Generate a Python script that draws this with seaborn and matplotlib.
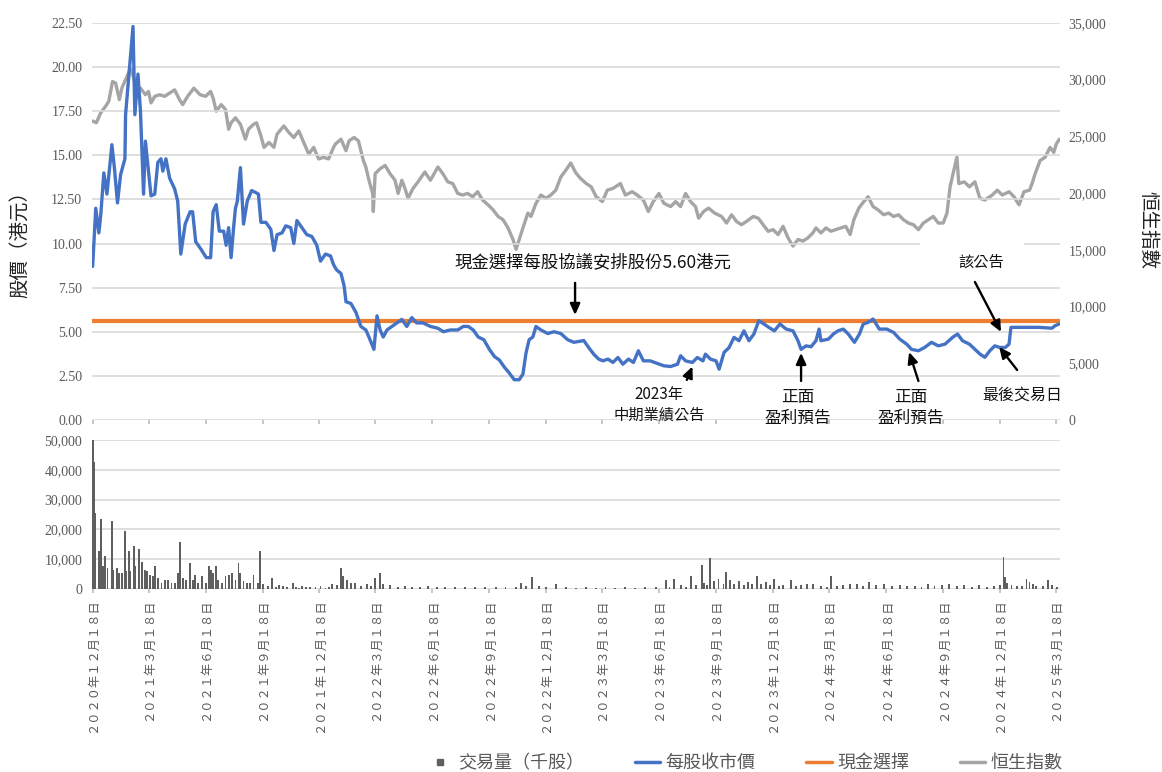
import matplotlib
matplotlib.use("Agg")
import matplotlib.dates as mdates
import pandas as pd
import seaborn as sns
from matplotlib import pyplot as plt
from matplotlib.font_manager import FontProperties
from matplotlib.lines import Line2D
from matplotlib.patches import Rectangle

# ---- data ----
price_dates = [
    "2020-12-18", "2020-12-23", "2020-12-28", "2020-12-31", "2021-01-05", "2021-01-10", "2021-01-18",
    "2021-01-22", "2021-01-27", "2021-02-01", "2021-02-08", "2021-02-09", "2021-02-14", "2021-02-21",
    "2021-02-24", "2021-03-01", "2021-03-05", "2021-03-10", "2021-03-13", "2021-03-18",
    "2021-03-22", "2021-03-28", "2021-04-02", "2021-04-07", "2021-04-10", "2021-04-15", "2021-04-21",
    "2021-04-29", "2021-05-04", "2021-05-09", "2021-05-16", "2021-05-24", "2021-05-28", "2021-06-02",
    "2021-06-10",
    "2021-06-19", "2021-06-26", "2021-06-30", "2021-07-05", "2021-07-10", "2021-07-17", "2021-07-21",
    "2021-07-25", "2021-07-29", "2021-08-02", "2021-08-05", "2021-08-08", "2021-08-13", "2021-08-18",
    "2021-08-24", "2021-08-31", "2021-09-06", "2021-09-11",
    "2021-09-15", "2021-09-23", "2021-10-01", "2021-10-06", "2021-10-11", "2021-10-19", "2021-10-25",
    "2021-11-02", "2021-11-07", "2021-11-12", "2021-11-20", "2021-11-28", "2021-12-06", "2021-12-14",
    "2021-12-20", "2021-12-28", "2022-01-05", "2022-01-10", "2022-01-15", "2022-01-22", "2022-01-27",
    "2022-01-30", "2022-02-07", "2022-02-15", "2022-02-23", "2022-03-03", "2022-03-08", "2022-03-16",
    "2022-03-21", "2022-03-26", "2022-03-31", "2022-04-06", "2022-04-14", "2022-04-22", "2022-04-30",
    "2022-05-08", "2022-05-16", "2022-05-24", "2022-06-03",
    "2022-06-15", "2022-06-27", "2022-07-06", "2022-07-17", "2022-07-29", "2022-08-07", "2022-08-15",
    "2022-08-23", "2022-08-31", "2022-09-09",
    "2022-09-18", "2022-09-26", "2022-10-04", "2022-10-12", "2022-10-20", "2022-10-28", "2022-11-05",
    "2022-11-11", "2022-11-16", "2022-11-21", "2022-11-27", "2022-12-02", "2022-12-10",
    "2022-12-21", "2022-12-31", "2023-01-11", "2023-01-22", "2023-02-01", "2023-02-17", "2023-02-25",
    "2023-03-05", "2023-03-13",
    "2023-03-20", "2023-03-28", "2023-04-05", "2023-04-13", "2023-04-21", "2023-04-30", "2023-05-08",
    "2023-05-16", "2023-05-24", "2023-06-04",
    "2023-06-16", "2023-06-26", "2023-07-07", "2023-07-18", "2023-07-23", "2023-07-31", "2023-08-11",
    "2023-08-19", "2023-08-28", "2023-09-01", "2023-09-09",
    "2023-09-18", "2023-09-23", "2023-10-01", "2023-10-09", "2023-10-17", "2023-10-25", "2023-11-02",
    "2023-11-10", "2023-11-18", "2023-11-26", "2023-12-04", "2023-12-12",
    "2023-12-21", "2023-12-30", "2024-01-09", "2024-01-20", "2024-01-28", "2024-02-02", "2024-02-10",
    "2024-02-18", "2024-02-26", "2024-03-02", "2024-03-05",
    "2024-03-17", "2024-03-25", "2024-04-02", "2024-04-10", "2024-04-18", "2024-04-28", "2024-05-06",
    "2024-05-12", "2024-05-20", "2024-05-28", "2024-06-02", "2024-06-07",
    "2024-06-19", "2024-06-30", "2024-07-10", "2024-07-21", "2024-07-29", "2024-08-09", "2024-08-19",
    "2024-08-30", "2024-09-10",
    "2024-09-21", "2024-10-03", "2024-10-11", "2024-10-19", "2024-10-30", "2024-11-08", "2024-11-16",
    "2024-11-24", "2024-12-02", "2024-12-10",
    "2024-12-18", "2024-12-27", "2025-01-02", "2025-01-05", "2025-01-18", "2025-02-19", "2025-03-12",
    "2025-03-17", "2025-03-23",
]
price_values = [
    8.7, 12.0, 10.6, 11.6, 14.0, 12.8, 15.6, 14.3, 12.3, 13.9, 14.8, 17.3, 19.4, 22.3, 17.3, 19.6, 17.5,
    12.8, 15.8, 14.1,
    12.7, 12.8, 14.6, 14.8, 14.1, 14.8, 13.7, 13.1, 12.4, 9.4, 11.1, 11.8, 11.8, 10.1, 9.7,
    9.2, 9.2, 11.8, 12.2, 10.7, 10.7, 9.9, 10.9, 9.2, 10.9, 12.0, 12.4, 14.3, 11.1, 12.4, 13.0, 12.9, 12.8,
    11.2, 11.2, 10.8, 9.6, 10.5, 10.6, 11.0, 10.9, 10.0, 11.3, 10.9, 10.5, 10.4, 9.9,
    9.0, 9.4, 9.3, 8.8, 8.5, 8.3, 7.6, 6.7, 6.6, 6.1, 5.3, 5.1, 4.7, 4.0,
    5.9, 5.1, 4.7, 5.1, 5.3, 5.5, 5.7, 5.3, 5.8, 5.5, 5.5,
    5.3, 5.2, 5.0, 5.1, 5.1, 5.3, 5.3, 5.1, 4.7, 4.55,
    4.0, 3.6, 3.4, 3.0, 2.66, 2.28, 2.28, 2.6, 3.8, 4.55, 4.7, 5.3, 5.1,
    4.9, 5.0, 4.9, 4.55, 4.4, 4.5, 4.1, 3.73, 3.45,
    3.35, 3.45, 3.26, 3.54, 3.16, 3.45, 3.26, 3.92, 3.35, 3.35,
    3.2, 3.07, 3.03, 3.16, 3.64, 3.35, 3.26, 3.54, 3.35, 3.73, 3.45,
    3.35, 2.88, 3.83, 4.1, 4.68, 4.49, 5.05, 4.49, 4.87, 5.63, 5.44, 5.25,
    5.05, 5.44, 5.15, 5.05, 4.49, 4.0, 4.2, 4.15, 4.49, 5.15, 4.49,
    4.58, 4.87, 5.06, 5.15, 4.87, 4.4, 4.87, 5.43, 5.53, 5.72, 5.43, 5.15,
    5.15, 4.96, 4.58, 4.3, 4.0, 3.92, 4.11, 4.4, 4.2,
    4.3, 4.68, 4.87, 4.49, 4.3, 4.0, 3.74, 3.55, 3.92, 4.2,
    4.11, 4.11, 4.3, 5.25, 5.25, 5.25, 5.2, 5.34, 5.43,
]

hsi_dates = [
    "2020-12-18", "2020-12-24", "2020-12-31", "2021-01-08", "2021-01-13", "2021-01-19", "2021-01-24",
    "2021-01-30", "2021-02-03", "2021-02-09", "2021-02-17", "2021-02-22", "2021-02-27", "2021-03-05",
    "2021-03-13", "2021-03-18",
    "2021-03-22", "2021-03-28", "2021-04-05", "2021-04-13", "2021-04-21", "2021-04-29", "2021-05-07",
    "2021-05-12", "2021-05-20", "2021-05-30", "2021-06-09",
    "2021-06-18", "2021-06-26", "2021-06-30", "2021-07-05", "2021-07-13", "2021-07-20", "2021-07-25",
    "2021-07-29", "2021-08-05", "2021-08-13", "2021-08-21", "2021-08-26", "2021-09-03", "2021-09-08",
    "2021-09-15",
    "2021-09-20", "2021-09-28", "2021-10-06", "2021-10-11", "2021-10-22", "2021-10-30", "2021-11-07",
    "2021-11-15", "2021-11-23", "2021-12-01", "2021-12-09", "2021-12-17",
    "2021-12-25", "2022-01-02", "2022-01-10", "2022-01-13", "2022-01-22", "2022-01-30", "2022-02-04",
    "2022-02-12", "2022-02-19", "2022-02-27", "2022-03-03", "2022-03-08", "2022-03-14", "2022-03-15",
    "2022-03-18", "2022-03-26", "2022-04-03", "2022-04-11", "2022-04-19", "2022-04-24", "2022-04-30",
    "2022-05-05", "2022-05-10", "2022-05-18", "2022-05-26", "2022-06-06", "2022-06-15",
    "2022-06-27", "2022-07-05", "2022-07-13", "2022-07-21", "2022-07-29", "2022-08-06", "2022-08-14",
    "2022-08-22", "2022-08-30", "2022-09-07", "2022-09-16",
    "2022-09-24", "2022-10-02", "2022-10-10", "2022-10-18", "2022-10-26", "2022-10-31", "2022-11-05",
    "2022-11-11", "2022-11-19", "2022-11-24", "2022-12-02", "2022-12-10", "2022-12-18", "2022-12-26",
    "2023-01-03", "2023-01-11", "2023-01-19", "2023-01-27", "2023-02-04", "2023-02-12", "2023-02-21",
    "2023-03-01", "2023-03-09", "2023-03-19",
    "2023-03-27", "2023-04-05", "2023-04-17", "2023-04-25", "2023-05-06", "2023-05-14", "2023-05-24",
    "2023-06-01", "2023-06-09", "2023-06-18",
    "2023-06-26", "2023-07-07", "2023-07-15", "2023-07-23", "2023-07-31", "2023-08-08", "2023-08-16",
    "2023-08-21", "2023-08-29", "2023-09-06", "2023-09-16",
    "2023-09-27", "2023-10-05", "2023-10-13", "2023-10-21", "2023-10-29", "2023-11-06", "2023-11-17",
    "2023-11-25", "2023-12-03", "2023-12-11", "2023-12-19", "2023-12-27",
    "2024-01-04", "2024-01-12", "2024-01-20", "2024-01-28", "2024-02-05", "2024-02-13", "2024-02-21",
    "2024-02-26", "2024-03-05", "2024-03-13",
    "2024-03-21", "2024-03-29", "2024-04-06", "2024-04-14", "2024-04-21", "2024-04-27", "2024-05-05",
    "2024-05-13", "2024-05-20", "2024-05-28", "2024-06-05", "2024-06-14",
    "2024-06-22", "2024-06-30", "2024-07-08", "2024-07-16", "2024-07-24", "2024-08-01", "2024-08-09",
    "2024-08-17", "2024-08-25", "2024-09-02", "2024-09-10", "2024-09-18",
    "2024-09-24", "2024-09-29", "2024-10-05", "2024-10-10", "2024-10-13", "2024-10-22", "2024-10-30",
    "2024-11-08", "2024-11-16", "2024-11-24", "2024-12-06", "2024-12-14", "2024-12-22",
    "2025-01-02", "2025-01-10", "2025-01-18", "2025-01-26", "2025-02-04", "2025-02-08", "2025-02-13",
    "2025-02-21", "2025-03-01", "2025-03-09", "2025-03-15", "2025-03-19", "2025-03-24",
]
hsi_values = [
    26350, 26200, 27080, 27660, 28100, 29830, 29700, 28230, 29250, 30000, 31000, 30130, 28960, 29250,
    28670, 28960,
    27950, 28530, 28670, 28530, 28810, 29100, 28230, 27800, 28530, 29250, 28670,
    28530, 28960, 28380, 27220, 27800, 27370, 25630, 26200, 26640, 26060, 24750, 25630, 26060, 26200,
    25040,
    24030, 24460, 24030, 25200, 25920, 25340, 24900, 25480, 24460, 23440, 24030, 23010,
    23150, 23010, 24030, 24320, 24750, 23740, 24610, 24900, 24610, 22870, 22300, 21130, 19970, 18380,
    21710, 22150, 22440, 21710, 21130, 19970, 21130, 20410, 19540, 20410, 20990, 21860, 21130,
    22300, 21710, 20990, 20840, 19970, 19830, 19970, 19680, 20120, 19390, 18960,
    18520, 17940, 17650, 16930, 15910, 15040, 15910, 16930, 18240, 17940, 19100, 19830, 19540, 19830,
    20260, 21420, 22010, 22650, 21800, 21280, 20840, 20550, 19680, 19250,
    20260, 20410, 20840, 19830, 20120, 19830, 19390, 18380, 19250, 19970,
    19100, 18810, 19250, 18810, 19970, 19250, 18810, 17790, 18380, 18670, 18230,
    17940, 17360, 18090, 17500, 17210, 17500, 17940, 17790, 17210, 16630, 16780, 16340,
    17070, 16050, 15330, 15910, 15770, 16050, 16490, 16930, 16490, 16930,
    16640, 16780, 16930, 17070, 16350, 17650, 18670, 19250, 19680, 18810, 18520, 18090,
    18240, 17940, 18090, 17650, 17360, 17210, 16780, 17360, 17650, 17940, 17360, 17360,
    18240, 20550, 22000, 23160, 20840, 20990, 20550, 20990, 19540, 19390, 19830, 20260, 19830,
    20120, 19680, 18960, 20120, 20260, 20840, 21710, 22870, 23160, 24030, 23590, 24320, 24750,
]

volume_dates = [
    "2020-12-18", "2020-12-21", "2020-12-22", "2020-12-28", "2020-12-29", "2020-12-31", "2021-01-04",
    "2021-01-07", "2021-01-11", "2021-01-18", "2021-01-20", "2021-01-26", "2021-01-29", "2021-02-03",
    "2021-02-08", "2021-02-10", "2021-02-15", "2021-02-17", "2021-02-23", "2021-02-25", "2021-03-02",
    "2021-03-08", "2021-03-12", "2021-03-16",
    "2021-03-21", "2021-03-25", "2021-03-29", "2021-04-02", "2021-04-08", "2021-04-13", "2021-04-18",
    "2021-04-24", "2021-04-29", "2021-05-04", "2021-05-07", "2021-05-12", "2021-05-18", "2021-05-24",
    "2021-05-28", "2021-06-01", "2021-06-06", "2021-06-12",
    "2021-06-18", "2021-06-23", "2021-06-26", "2021-06-30", "2021-07-05", "2021-07-08", "2021-07-15",
    "2021-07-20", "2021-07-25", "2021-07-31", "2021-08-05", "2021-08-10", "2021-08-13", "2021-08-18",
    "2021-08-24", "2021-08-29", "2021-09-03", "2021-09-10", "2021-09-13",
    "2021-09-18", "2021-09-26", "2021-10-03", "2021-10-09", "2021-10-14", "2021-10-20", "2021-10-27",
    "2021-11-05", "2021-11-10", "2021-11-15", "2021-11-20", "2021-11-26", "2021-12-03", "2021-12-12",
    "2021-12-20", "2021-12-28",
    "2022-01-03", "2022-01-08", "2022-01-16", "2022-01-22", "2022-01-25", "2022-01-31", "2022-02-07",
    "2022-02-13", "2022-02-23", "2022-03-05", "2022-03-11", "2022-03-18", "2022-03-26", "2022-03-31",
    "2022-04-11", "2022-04-24", "2022-05-05", "2022-05-16", "2022-05-29", "2022-06-11", "2022-06-25",
    "2022-07-09", "2022-07-25", "2022-08-10", "2022-08-26", "2022-09-11", "2022-09-28", "2022-10-14",
    "2022-10-31", "2022-11-08", "2022-11-16", "2022-11-26", "2022-12-07", "2022-12-18",
    "2023-01-03", "2023-01-19", "2023-02-04", "2023-02-21", "2023-03-09", "2023-03-24", "2023-04-09",
    "2023-04-25", "2023-05-11", "2023-05-27", "2023-06-13",
    "2023-06-29", "2023-07-05", "2023-07-12", "2023-07-23", "2023-08-01", "2023-08-09", "2023-08-17",
    "2023-08-26", "2023-08-30", "2023-09-04", "2023-09-09", "2023-09-15", "2023-09-22", "2023-09-30",
    "2023-10-04", "2023-10-11", "2023-10-17", "2023-10-25", "2023-11-02", "2023-11-09", "2023-11-15",
    "2023-11-23", "2023-11-30", "2023-12-08", "2023-12-14", "2023-12-21", "2023-12-29",
    "2024-01-04", "2024-01-17", "2024-01-25", "2024-02-02", "2024-02-12", "2024-02-21", "2024-03-05",
    "2024-03-15", "2024-03-21", "2024-03-31", "2024-04-10", "2024-04-21", "2024-05-02", "2024-05-12",
    "2024-05-22", "2024-06-02", "2024-06-14", "2024-06-27", "2024-07-10", "2024-07-22", "2024-08-03",
    "2024-08-14", "2024-08-24", "2024-09-04", "2024-09-16", "2024-09-27", "2024-10-10", "2024-10-22",
    "2024-11-03", "2024-11-15", "2024-11-27", "2024-12-09", "2024-12-18",
    "2024-12-24", "2024-12-27", "2024-12-30", "2025-01-06", "2025-01-15", "2025-01-23", "2025-01-30",
    "2025-02-04", "2025-02-09", "2025-02-15", "2025-02-25", "2025-03-06", "2025-03-12", "2025-03-20",
]
volume_values = [
    50000, 42500, 25600, 12700, 5400, 23400, 7600, 11000, 7100, 22800, 6500, 7100, 5400, 5400,
    19400, 6000, 12700, 6000, 14400, 7600, 13300, 9000, 6500, 6000,
    4800, 4300, 7600, 3700, 2000, 3100, 3100, 2000, 2000, 5400, 15700, 3700, 3100, 8800,
    3100, 4800, 2000, 4300,
    2000, 7600, 6500, 5400, 7600, 3100, 2000, 4300, 4800, 5400, 3100, 8800, 5400, 2600,
    2000, 2000, 4800, 2000, 12700,
    1500, 900, 3700, 700, 1200, 900, 600, 2000, 800, 300, 1000, 700, 600, 700, 900, 300,
    500, 1500, 1200, 7100, 4300, 3100, 2000, 2000, 900, 1700, 1000, 3700, 5400, 1500,
    1200, 700, 900, 600, 800, 1100, 600,
    500, 500, 500, 600, 500, 500, 600, 800, 2000, 900, 3900, 900, 700,
    1500, 500, 400, 500, 400, 500, 400, 500, 400, 600, 500,
    3000, 800, 3300, 1200, 800, 4200, 1200, 8000, 2000, 1200, 10300, 2700, 3500, 1500,
    5800, 3000, 1500, 2700, 1200, 2400, 1500, 4200, 1500, 2400, 1200, 3300, 900,
    1200, 3000, 900, 1200, 1800, 1500, 900, 700, 4200, 1000, 1200, 1500, 1800, 1000,
    2300, 1200, 1500, 1000, 1200, 900, 1000, 800, 1500, 900, 1200, 1500, 900, 1200,
    700, 1200, 800, 1000, 1200,
    10600, 3900, 2000, 1200, 1000, 900, 3500, 2400, 1500, 1000, 900, 3000, 1200, 800,
]

cash_option = 5.60

tick_dates = [
    "2020-12-18", "2021-03-18", "2021-06-18", "2021-09-18", "2021-12-18", "2022-03-18",
    "2022-06-18", "2022-09-18", "2022-12-18", "2023-03-18", "2023-06-18", "2023-09-18",
    "2023-12-18", "2024-03-18", "2024-06-18", "2024-09-18", "2024-12-18", "2025-03-18",
]
tick_labels = [
    "２０２０年１２月１８日", "２０２１年３月１８日", "２０２１年６月１８日", "２０２１年９月１８日",
    "２０２１年１２月１８日", "２０２２年３月１８日", "２０２２年６月１８日", "２０２２年９月１８日",
    "２０２２年１２月１８日", "２０２３年３月１８日", "２０２３年６月１８日", "２０２３年９月１８日",
    "２０２３年１２月１８日", "２０２４年３月１８日", "２０２４年６月１８日", "２０２４年９月１８日",
    "２０２４年１２月１８日", "２０２５年３月１８日",
]
legend_labels = ["交易量（千股）", "每股收市價", "現金選擇", "恒生指數"]

# ---- style ----
BLUE = "#4472C4"
ORANGE = "#ED7D31"
GRAY = "#A5A5A5"
BAR = "#5F5F5F"
GRID = "#D9D9D9"
TICK = "#595959"

sns.set_theme(style="white")
plt.rcParams["font.family"] = ["Noto Sans CJK TC", "DejaVu Sans"]

price_df = pd.DataFrame({"date": pd.to_datetime(price_dates), "price": price_values})
hsi_df = pd.DataFrame({"date": pd.to_datetime(hsi_dates), "hsi": hsi_values})
vol_df = pd.DataFrame({"date": pd.to_datetime(volume_dates), "volume": volume_values})

fig = plt.figure(figsize=(11.62, 7.72), dpi=100)
fig.patch.set_facecolor("white")
ax = fig.add_axes([0.0792, 0.456, 0.833, 0.5143])
ax_hsi = ax.twinx()
ax_vol = fig.add_axes([0.0792, 0.2371, 0.833, 0.1930], sharex=ax)

# price panel drawn above the index line
ax.set_zorder(ax_hsi.get_zorder() + 1)
ax.patch.set_visible(False)

sns.lineplot(data=hsi_df, x="date", y="hsi", ax=ax_hsi, color=GRAY, lw=2.4,
             estimator=None, errorbar=None, sort=False, legend=False)
ax.axhline(cash_option, color=ORANGE, lw=3, zorder=2)
sns.lineplot(data=price_df, x="date", y="price", ax=ax, color=BLUE, lw=2.4,
             estimator=None, errorbar=None, sort=False, legend=False, zorder=3)
ax_vol.bar(vol_df["date"], vol_df["volume"], width=3.0, color=BAR, linewidth=0)

ax.set_xlim(pd.Timestamp("2020-12-17"), pd.Timestamp("2025-03-25"))
ax.set_ylim(0, 22.5)
ax_hsi.set_ylim(0, 35000)
ax_vol.set_ylim(0, 50000)

price_ticks = [i * 2.5 for i in range(10)]
hsi_ticks = [i * 5000 for i in range(8)]
vol_ticks = [i * 10000 for i in range(6)]
ax.set_yticks(price_ticks, [f"{v:.2f}" for v in price_ticks])
ax_hsi.set_yticks(hsi_ticks, [f"{v:,}" for v in hsi_ticks])
ax_vol.set_yticks(vol_ticks, [f"{v:,}" for v in vol_ticks])

ax_vol.set_xticks(pd.to_datetime(tick_dates), tick_labels, rotation=90,
                  fontsize=8.8, color=TICK, ha="center", va="top")
ax.tick_params(axis="x", bottom=True, labelbottom=False, length=3, color="#BFBFBF")
ax_vol.tick_params(axis="x", bottom=True, length=3, color="#BFBFBF", pad=4)
ax.tick_params(axis="y", length=0, pad=7)
ax_hsi.tick_params(axis="y", length=0, pad=6)
ax_vol.tick_params(axis="y", length=0, pad=7)

serif = FontProperties(family="Liberation Serif", size=10)
for a in (ax, ax_hsi, ax_vol):
    a.set_xlabel("")
    a.set_ylabel("")
    for s in a.spines.values():
        s.set_visible(False)
    for t in a.get_yticklabels():
        t.set_fontproperties(serif)
        t.set_color(TICK)
ax.grid(axis="y", color=GRID, lw=1.2)
ax.grid(axis="x", visible=False)
ax_hsi.grid(False)
ax_vol.grid(axis="y", color=GRID, lw=1.2)
ax_vol.grid(axis="x", visible=False)

# small white patch hiding a piece of the 10.00 gridline, as in the reference
x0 = mdates.date2num(pd.Timestamp("2024-08-11"))
x1 = mdates.date2num(pd.Timestamp("2025-01-26"))
ax.add_patch(Rectangle((x0, 9.72), x1 - x0, 0.55, color="white", zorder=1.5, lw=0))

# ---- annotations ----
ts = pd.Timestamp
arrow = dict(arrowstyle="-|>,head_length=0.55,head_width=0.25", color="black",
             lw=1.7, shrinkA=0, shrinkB=0)
ax.text(ts("2023-03-04"), 8.96, "現金選擇每股協議安排股份5.60港元",
        ha="center", va="center", fontsize=12.5, color="#111111", zorder=5)
ax.annotate("", xy=(ts("2023-02-03"), 5.95), xytext=(ts("2023-02-03"), 7.77), arrowprops=arrow)

ax.text(ts("2023-06-18"), 0.85, "2023年\n中期業績公告", ha="center", va="center",
        fontsize=11, linespacing=1.3, color="#111111", zorder=5)
ax.annotate("", xy=(ts("2023-08-11"), 3.03), xytext=(ts("2023-08-02"), 2.27), arrowprops=arrow)

ax.text(ts("2024-01-28"), 0.68, "正面\n盈利預告", ha="center", va="center",
        fontsize=12, linespacing=1.25, color="#111111", zorder=5)
ax.annotate("", xy=(ts("2024-02-02"), 3.8), xytext=(ts("2024-02-02"), 2.21), arrowprops=arrow)

ax.text(ts("2024-07-28"), 0.68, "正面\n盈利預告", ha="center", va="center",
        fontsize=12, linespacing=1.25, color="#111111", zorder=5)
ax.annotate("", xy=(ts("2024-07-25"), 3.85), xytext=(ts("2024-08-09"), 2.21), arrowprops=arrow)

ax.text(ts("2024-11-18"), 8.96, "該公告", ha="center", va="center",
        fontsize=11, color="#111111", zorder=5)
ax.annotate("", xy=(ts("2024-12-20"), 4.99), xytext=(ts("2024-11-08"), 7.82), arrowprops=arrow)

ax.text(ts("2025-01-23"), 1.42, "最後交易日", ha="center", va="center",
        fontsize=11.5, color="#111111", zorder=5)
ax.annotate("", xy=(ts("2024-12-17"), 4.14), xytext=(ts("2025-01-15"), 2.83), arrowprops=arrow)

# ---- axis titles and legend ----
fig.text(20 / 1162, 1 - 240 / 772, "股價（港元）", rotation=90, ha="center", va="center",
         fontsize=14, color="#222222")
fig.text(1148 / 1162, 1 - 230 / 772, "恒生指數", rotation=-90, ha="center", va="center",
         fontsize=14, color="#222222")

handles = [
    Line2D([], [], marker="s", ls="none", color=BAR, markersize=5),
    Line2D([], [], color=BLUE, lw=2.5),
    Line2D([], [], color=ORANGE, lw=2.5),
    Line2D([], [], color=GRAY, lw=2.5),
]
fig.legend(handles, legend_labels, loc="center", bbox_to_anchor=(745 / 1162, 1 - 763 / 772),
           ncol=4, frameon=False, fontsize=13, labelcolor=TICK, handlelength=1.4,
           handletextpad=0.3, columnspacing=2.8)

fig.savefig("out.png", dpi=100)
